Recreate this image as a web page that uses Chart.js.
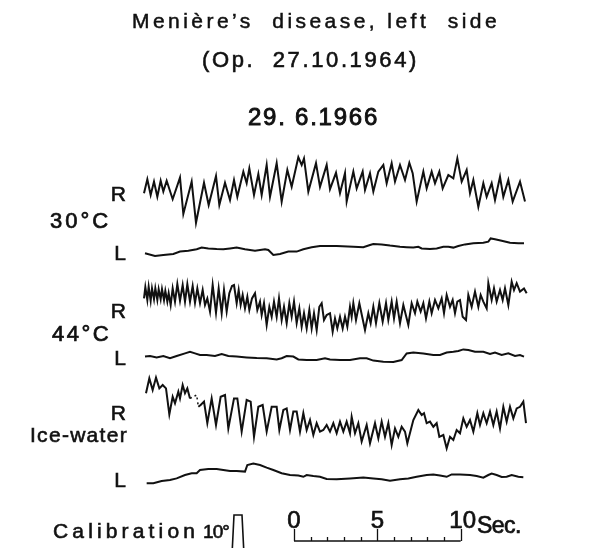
<!DOCTYPE html>
<html>
<head>
<meta charset="utf-8">
<script src="https://cdn.jsdelivr.net/npm/chart.js@4"></script>
<style>
  html, body { margin: 0; padding: 0; background: #fff; }
  canvas { display: block; }
</style>
</head>
<body>
<canvas id="nysChart" width="592" height="548"></canvas>
<script>
// eye position traces, [time s, deflection deg]
const r30 = [[0.00,-0.8],[0.20,2.7],[0.40,-1.25],[0.60,2.1],[0.80,-1.7],[1.00,2.3],[1.16,-0.4],[1.36,2.3],[1.72,-2.3],[2.16,3.1],[2.36,-6.0],[2.86,2.1],[3.12,-8.2],[3.60,1.8],[3.88,-3.75],[4.06,-0.8],[4.32,3.5],[4.52,-3.75],[4.86,1.8],[5.16,-2.5],[5.40,2.5],[5.60,-1.7],[5.96,4.6],[6.16,1.7],[6.32,5.4],[6.60,-1.25],[6.86,4.0],[7.06,-1.25],[7.36,6.25],[7.56,-1.7],[7.96,6.7],[8.26,-2.9],[8.60,5.0],[8.86,0.8],[9.26,8.2],[9.46,6.25],[9.60,7.9],[9.86,-0.4],[10.32,6.7],[10.56,0.8],[10.96,6.25],[11.16,0.2],[11.52,4.3],[11.76,-0.8],[12.06,4.2],[12.16,-2.9],[12.56,4.6],[12.76,0.4],[13.12,4.6],[13.26,0],[13.56,4.2],[13.76,-0.4],[14.06,4.6],[14.36,6.25],[14.56,1.7],[14.86,6.7],[15.06,2.1],[15.36,6.25],[15.66,2.5],[15.92,6.8],[16.12,4.2],[16.36,-2.9],[16.76,4.6],[16.96,0.4],[17.26,4.6],[17.46,1.7],[17.72,4.6],[17.92,0.4],[18.26,3.75],[18.56,2.9],[18.80,7.9],[19.06,2.1],[19.36,5.0],[19.56,-0.8],[19.76,2.5],[20.06,-4.2],[20.36,1.7],[20.56,-1.7],[20.86,1.7],[21.06,-2.5],[21.36,3.3],[21.56,-1.7],[21.86,2.5],[22.12,-2.9],[22.56,2.1],[22.86,-2.9]];
const l30 = [[0.06,-0.8],[0.66,-1.5],[1.16,-1.25],[1.76,-1.0],[2.16,-0.4],[2.66,-0.2],[3.16,0.2],[3.46,0.6],[3.86,0.4],[4.36,0.25],[4.76,0.2],[5.16,0.4],[5.56,0.6],[6.06,0.2],[6.66,-0.2],[7.26,0.2],[7.46,0],[7.76,-1.25],[8.16,-1.0],[8.66,-0.4],[9.16,-0.4],[9.56,0.2],[10.06,0.7],[10.56,1.0],[11.56,1.0],[12.56,0.8],[13.16,0.7],[13.56,1.25],[13.76,1.5],[14.26,1.4],[14.76,1.1],[15.36,0.8],[15.76,0.7],[16.16,0.6],[16.46,0.8],[16.66,0.4],[17.16,0.25],[17.56,0.4],[17.96,0.8],[18.26,0.8],[18.56,0.6],[18.86,1.0],[19.26,1.4],[19.76,1.7],[20.36,1.8],[20.66,2.1],[20.80,2.9],[21.06,2.7],[21.46,2.3],[21.96,1.8],[22.46,1.7],[22.80,1.7]];
const r44 = [[0.00,0.4],[0.08,3.2],[0.20,0],[0.28,3.3],[0.40,-0.2],[0.48,2.9],[0.60,0.2],[0.68,2.9],[0.80,0],[0.88,2.7],[1.00,0.2],[1.08,2.7],[1.20,0],[1.28,2.3],[1.40,-0.4],[1.48,1.7],[1.60,-1.25],[1.72,2.9],[1.86,-0.4],[2.00,4.0],[2.16,-0.2],[2.32,3.75],[2.46,-0.4],[2.60,4.0],[2.76,-0.4],[2.92,3.5],[3.06,-0.7],[3.20,2.9],[3.36,-0.8],[3.52,2.5],[3.66,-1.25],[3.80,0.4],[3.96,-2.9],[4.12,3.75],[4.32,-3.2],[4.48,2.9],[4.66,-3.3],[4.80,2.5],[4.96,-2.9],[5.12,1.7],[5.28,3.5],[5.40,3.75],[5.56,-0.8],[5.68,2.5],[5.80,-1.25],[5.92,1.25],[6.06,-2.1],[6.20,0.8],[6.32,-2.5],[6.48,0.4],[6.66,1.7],[6.80,-2.5],[6.96,-0.4],[7.06,-3.75],[7.20,-0.8],[7.36,-6.25],[7.52,-1.7],[7.66,-4.2],[7.80,-0.4],[7.96,-4.2],[8.10,0.4],[8.26,-5.0],[8.40,-1.7],[8.56,-5.8],[8.72,-0.8],[8.86,-4.2],[9.00,-0.4],[9.16,-5.8],[9.32,-2.1],[9.46,-6.7],[9.60,-3.3],[9.76,-7.1],[9.92,-2.5],[10.06,-7.1],[10.20,-3.3],[10.36,-7.5],[10.52,-1.7],[10.66,-0.8],[10.80,-5.0],[10.96,-3.75],[11.16,-3.3],[11.32,-7.9],[11.46,-4.6],[11.60,-7.1],[11.76,-4.2],[11.92,-7.1],[12.06,-4.2],[12.20,-6.7],[12.36,-1.7],[12.46,-4.2],[12.56,-0.8],[12.72,-5.0],[12.92,-0.8],[13.26,-7.5],[13.46,-3.3],[13.60,-5.8],[13.76,-1.7],[13.92,-5.8],[14.12,-0.8],[14.32,-5.4],[14.52,-0.8],[14.66,-5.0],[14.86,-0.4],[15.00,-4.6],[15.16,-0.4],[15.36,-5.8],[15.56,-1.25],[15.86,-6.25],[16.06,-0.8],[16.26,-3.3],[16.40,-0.4],[16.60,-2.9],[16.76,-0.8],[16.92,-4.6],[17.12,-0.4],[17.26,-3.3],[17.46,0],[17.66,-2.1],[17.86,0.4],[18.00,-3.3],[18.16,1.25],[18.36,-1.7],[18.52,0],[18.66,-3.3],[18.80,-0.4],[18.96,0],[19.12,-4.2],[19.32,-5.0],[19.46,1.25],[19.66,-1.7],[19.86,2.1],[20.06,-1.7],[20.20,1.25],[20.36,-0.4],[20.56,-2.1],[20.66,4.2],[20.86,0],[21.00,2.9],[21.16,-0.4],[21.36,2.5],[21.52,0],[21.66,2.9],[21.86,-1.25],[22.06,4.6],[22.20,2.5],[22.36,4.2],[22.56,2.1],[22.80,2.9],[22.96,1.7]];
const l44 = [[0.06,0.1],[0.36,0.25],[0.76,-0.1],[1.16,0.25],[1.56,-0.3],[1.96,0.25],[2.46,0.9],[2.76,1.3],[3.06,0.9],[3.36,0.5],[3.76,0.5],[4.26,0.25],[4.66,0.75],[5.06,0.25],[5.56,0.1],[6.16,-0.1],[6.76,-0.25],[7.36,-0.3],[7.96,-0.6],[8.26,-0.3],[8.56,0.25],[8.96,0.1],[9.26,-0.6],[9.76,-0.75],[10.36,-0.75],[10.86,-0.3],[11.16,-0.6],[11.76,-0.75],[12.36,-0.75],[12.96,-0.3],[13.36,-0.3],[13.76,-0.9],[14.36,-1.2],[14.96,-1.25],[15.46,-0.75],[15.76,0.9],[16.16,1.1],[16.76,0.9],[17.36,0.5],[17.76,0.5],[18.16,1.1],[18.56,1.3],[18.86,1.5],[19.16,1.9],[19.46,1.75],[19.86,1.3],[20.36,1.3],[20.76,0.75],[21.06,1.1],[21.46,0.5],[21.86,0.9],[22.26,0.25],[22.56,0.5],[22.80,0.1]];
const rIce = [[0.12,4.2],[0.32,7.9],[0.52,5.0],[0.72,8.1],[0.92,5.4],[1.12,6.25],[1.32,5.4],[1.52,-1.1],[1.72,3.3],[1.86,1.7],[2.06,4.6],[2.16,2.9],[2.32,6.25],[2.46,4.2],[2.60,5.4],[2.76,2.9],[2.96,3.3],[3.16,3.75],[3.26,0.8],[3.40,1.25],[3.60,2.1],[3.80,-3.3],[4.06,2.9],[4.32,-3.75],[4.60,3.3],[4.86,3.75],[5.06,-4.6],[5.40,2.9],[5.60,2.9],[5.86,-5.4],[6.16,2.5],[6.40,2.1],[6.60,-6.7],[6.86,0.8],[7.12,1.25],[7.36,-5.4],[7.66,0.8],[7.96,0.8],[8.12,-5.0],[8.36,0],[8.56,0.4],[8.76,-5.0],[8.96,-0.4],[9.16,-0.4],[9.36,-5.4],[9.56,-0.8],[9.76,-5.0],[9.96,-2.5],[10.16,-6.25],[10.36,-3.3],[10.56,-5.4],[10.76,-5.0],[10.96,-3.75],[11.16,-5.4],[11.36,-3.3],[11.56,-5.8],[11.76,-2.9],[11.96,-5.4],[12.16,-2.9],[12.36,-5.8],[12.46,-1.7],[12.66,-5.8],[12.86,-3.3],[13.06,-7.9],[13.36,-3.75],[13.56,-8.3],[13.86,-3.3],[14.06,-7.1],[14.26,-2.9],[14.46,-6.7],[14.66,-3.3],[14.86,-8.75],[15.06,-4.6],[15.26,-6.7],[15.46,-4.2],[15.66,-5.4],[15.80,-8.3],[16.16,-2.5],[16.46,0],[16.66,-1.25],[16.80,-0.8],[16.96,-3.3],[17.16,-2.9],[17.36,-4.2],[17.56,-3.3],[17.72,-6.7],[17.96,-6.25],[18.16,-9.6],[18.36,-6.7],[18.56,-7.5],[18.76,-5.0],[18.96,-5.8],[19.16,-2.1],[19.36,-4.2],[19.56,-2.5],[19.76,-5.4],[20.00,-0.8],[20.16,-3.75],[20.36,-0.8],[20.56,-3.3],[20.76,-0.4],[20.96,-3.75],[21.16,-0.4],[21.36,-4.6],[21.56,0.8],[21.76,-2.9],[21.96,0.8],[22.16,-2.1],[22.36,0.4],[22.56,0.8],[22.76,2.1],[22.92,-3.3]];
const lIce = [[0.16,-1.3],[0.56,-1.3],[1.06,-0.75],[1.56,-0.5],[1.96,-0.1],[2.46,0.75],[2.86,1.2],[3.16,1.2],[3.36,2.0],[3.86,2.25],[4.36,2.25],[4.76,2.0],[5.16,1.75],[5.56,1.75],[6.06,1.6],[6.20,3.25],[6.56,3.6],[6.96,3.25],[7.36,2.6],[7.76,2.0],[8.26,1.2],[8.76,0.75],[9.26,0.6],[9.56,0.3],[9.76,0.75],[10.16,0.5],[10.56,0.3],[10.96,-0.25],[11.56,-0.3],[12.36,-0.1],[13.16,0.1],[13.76,-0.1],[14.26,-0.3],[14.76,-0.7],[15.36,-0.3],[15.86,-0.1],[16.36,0.3],[16.96,0.75],[17.36,0.9],[17.76,0.6],[18.16,0.3],[18.46,0.9],[18.96,0.9],[19.56,0.75],[19.96,0.5],[20.36,0.1],[20.66,0.75],[20.86,1.1],[21.16,0.75],[21.46,0.25],[21.76,0.3],[22.06,0.75],[22.46,0.3],[22.76,0.2]];
// 10 degree calibration step
const calib = [[5.28,0],[5.40,10],[5.88,10],[6.00,0]];

const conditions = ['30°C', '44°C', 'Ice-water'];
const rulerLabels = ['0', '5', '10'];

// vertical slot of each trace on the page (deg units, 4 px per degree)
const traces = [
    { data: r30, base: 47.5 },
    { data: l30, base: 62.5 },
    { data: r44, base: 75 },
    { data: l44, base: 89.25 },
    { data: rIce, base: 102.5, dotted: [2.76, 3.26] },
    { data: lIce, base: 119.5 },
    { data: calib, base: 138.75, width: 1.6 }
];

const datasets = traces.map(function (tr) {
    const ds = {
        data: tr.data.map(p => ({ x: p[0], y: tr.base - p[1] })),
        borderColor: '#111',
        borderWidth: tr.width || 2,
        pointRadius: 0,
        tension: 0,
        clip: false
    };
    if (tr.dotted) {
        const inGap = ctx => ctx.p0.parsed.x >= tr.dotted[0] && ctx.p0.parsed.x < tr.dotted[1];
        ds.segment = {
            borderDash: ctx => inGap(ctx) ? [2, 3] : undefined,
            borderWidth: ctx => inGap(ctx) ? 1.5 : undefined
        };
    }
    return ds;
});

const FONT = '"Liberation Sans", Arial, sans-serif';

// fill + thin outline gives the slightly heavy print look
function ink(c, txt, x, y, weight) {
    c.fillText(txt, x, y);
    c.lineWidth = weight;
    c.strokeText(txt, x, y);
}

// left-aligned text with the letters spread out to a given width
function spread(c, txt, left, y, width, weight) {
    c.letterSpacing = '0px';
    const m = c.measureText(txt).width;
    const n = [...txt].length;
    c.letterSpacing = ((width - m) / n).toFixed(2) + 'px';
    c.textAlign = 'left';
    ink(c, txt, left, y, weight);
    c.letterSpacing = '0px';
}

const textLayer = {
    id: 'textLayer',
    afterDraw(chart) {
        const c = chart.ctx;
        const xs = chart.scales.x;
        c.save();
        c.fillStyle = '#111';
        c.strokeStyle = '#111';
        c.textBaseline = 'alphabetic';

        c.font = '21px ' + FONT;
        spread(c, 'Menière\u2019s  disease, left  side', 132, 28, 368, 0.5);
        c.font = '22px ' + FONT;
        spread(c, '(Op.  27.10.1964)', 202, 67, 217, 0.6);
        c.font = '24px ' + FONT;
        spread(c, '29. 6.1966', 248, 125, 131, 0.9);

        // R / L channel labels and stimulus names
        c.textAlign = 'right';
        c.font = '21px ' + FONT;
        [[201, 'R'], [260, 'L'], [318, 'R'], [365, 'L'], [420, 'R'], [487, 'L']].forEach(function (l) {
            ink(c, l[1], 126, l[0], 0.6);
        });
        c.font = '22px ' + FONT;
        spread(c, conditions[0], 50, 228, 61, 0.7);
        spread(c, conditions[1], 52, 341, 59, 0.7);
        c.font = '21px ' + FONT;
        spread(c, conditions[2], 30, 442, 98, 0.6);

        // calibration caption
        c.font = '21px ' + FONT;
        spread(c, 'Calibration', 53, 538, 146, 0.6);
        c.font = '19px ' + FONT;
        spread(c, '10°', 203, 538, 26, 0.6);

        // time ruler, 10 s
        const t0 = 9, t1 = 19, yb = 541;
        c.lineWidth = 1.3;
        c.beginPath();
        c.moveTo(xs.getPixelForValue(t0), yb);
        c.lineTo(xs.getPixelForValue(t1), yb);
        for (let t = t0; t <= t1; t++) {
            const px = Math.round(xs.getPixelForValue(t)) + 0.5;
            const h = (t - t0) % 5 === 0 ? 12 : 4;
            c.moveTo(px, yb);
            c.lineTo(px, yb - h);
        }
        c.stroke();

        c.textAlign = 'center';
        c.font = '24px ' + FONT;
        rulerLabels.forEach(function (lab, i) {
            ink(c, lab, xs.getPixelForValue(t0 + i * 5) + (i === 2 ? 2 : 0), 528, 0.7);
        });
        c.font = '23px ' + FONT;
        spread(c, 'Sec.', 477, 533, 44, 0.7);
        c.restore();
    }
};

new Chart(document.getElementById('nysChart').getContext('2d'), {
    type: 'line',
    data: { datasets: datasets },
    options: {
        responsive: false,
        animation: false,
        layout: { padding: 0 },
        plugins: { legend: { display: false }, tooltip: { enabled: false } },
        scales: {
            x: { type: 'linear', min: -8.64, max: 26.88, display: false },
            y: { type: 'linear', min: 0, max: 137, reverse: true, display: false }
        }
    },
    plugins: [textLayer]
});
</script>
</body>
</html>
